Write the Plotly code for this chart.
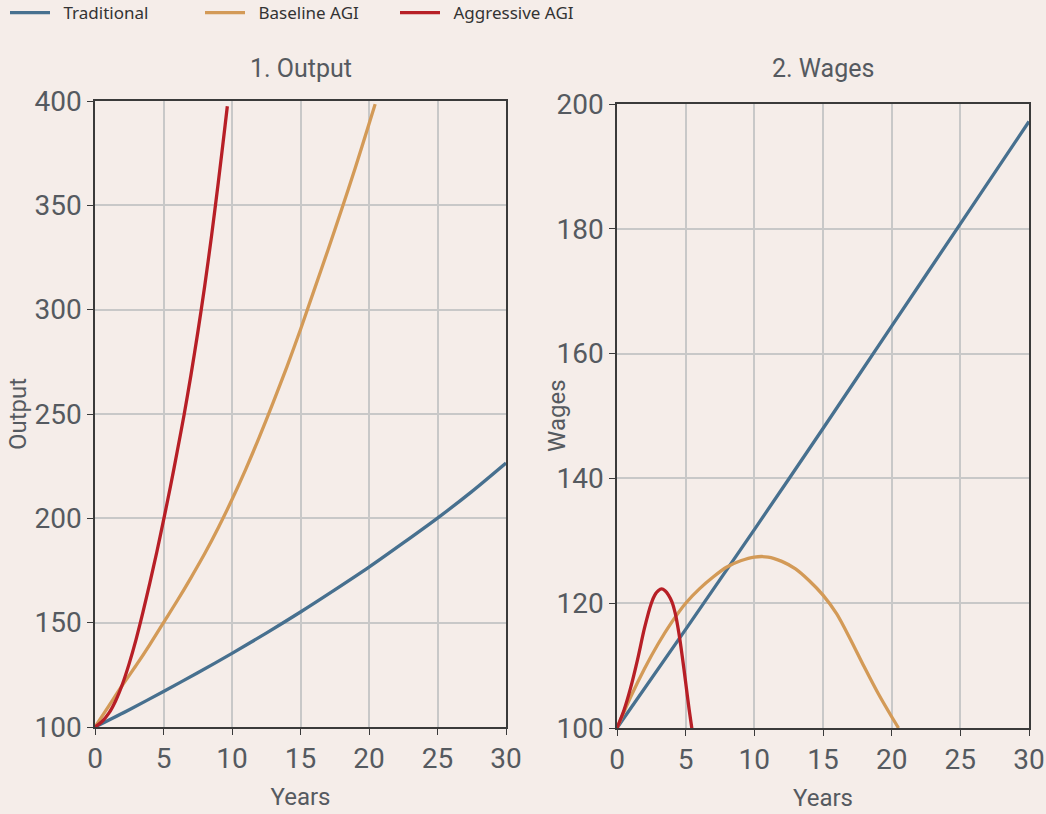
import plotly.graph_objects as go

# ---- data ----
out_trad_t = [0, 2.5, 5, 7.5, 10, 12.5, 15, 17.5, 20, 22.5, 25, 27.5, 30]
out_trad_v = [100, 108.3, 117, 126, 135.3, 145, 155.1, 165.7, 176.6, 188.2, 200.1, 212.8, 226.5]

out_base_t = [0, 1, 2, 3, 4, 5, 6, 7, 8, 9, 10, 11, 12, 13, 14, 15, 16, 17, 18, 19, 20, 20.45]
out_base_v = [100, 110, 120, 129.5, 139.5, 150, 160.5, 171.5, 183, 195.5, 209, 223.5, 239,
              255.5, 272.5, 290.5, 309.5, 328.5, 348, 368, 389, 398.5]

out_aggr_t = [0, 0.5, 1, 1.5, 2, 2.5, 3, 3.5, 4, 4.5, 5, 5.5, 6, 6.5, 7, 7.5, 8, 8.5, 9, 9.5, 9.66]
out_aggr_v = [100, 102.5, 106.5, 112.5, 120.5, 130.5, 142, 155, 169, 183.5, 199, 215, 232, 249.5,
              268.5, 289, 311, 335, 361, 388.5, 397.5]

wage_trad_t = [0, 5, 10, 15, 20, 25, 30]
wage_trad_v = [100, 115.8, 131.8, 148, 164.4, 180.8, 197.2]

wage_base_t = [0, 1, 2, 3, 4, 5, 6, 7, 8, 9, 10, 11, 12, 13, 14, 15, 16, 17, 18, 19, 20, 20.5]
wage_base_v = [100, 105, 109.5, 113.5, 117, 120, 122.3, 124.2, 125.8, 126.8, 127.4, 127.4, 126.7,
               125.5, 123.6, 121.3, 118.3, 114.2, 109.8, 105.6, 101.8, 100]

wage_aggr_t = [0, 0.5, 1, 1.5, 2, 2.5, 2.75, 3, 3.25, 3.5, 3.75, 4, 4.25, 4.5, 4.75, 5, 5.25, 5.46]
wage_aggr_v = [100, 102.8, 106.5, 111, 116, 120, 121.3, 122, 122.3, 122, 121.3, 120.2, 118.3,
               115.3, 111.5, 107.3, 103, 99.8]

series_names = ["Traditional", "Baseline AGI", "Aggressive AGI"]
colors = ["#47708f", "#d39a57", "#b71f26"]

x_ticks = [0, 5, 10, 15, 20, 25, 30]
out_ticks = [100, 150, 200, 250, 300, 350, 400]
wage_ticks = [100, 120, 140, 160, 180, 200]
titles = ["1. Output", "2. Wages"]
y_titles = ["Output", "Wages"]

BG = "#f5ede9"
TICKFONT = "Roboto, sans-serif"
TXT = "#555a60"

fig = go.Figure()

panel1 = [(out_trad_t, out_trad_v), (out_base_t, out_base_v), (out_aggr_t, out_aggr_v)]
panel2 = [(wage_trad_t, wage_trad_v), (wage_base_t, wage_base_v), (wage_aggr_t, wage_aggr_v)]

for i, (t, v) in enumerate(panel1):
    fig.add_trace(go.Scatter(x=t, y=v, mode="lines", name="\u2002" + series_names[i],
                             line=dict(color=colors[i], width=3.3, shape="spline", smoothing=0.8),
                             xaxis="x", yaxis="y", showlegend=True, legendgroup=series_names[i]))
for i, (t, v) in enumerate(panel2):
    fig.add_trace(go.Scatter(x=t, y=v, mode="lines", name=series_names[i],
                             line=dict(color=colors[i], width=3.3, shape="spline", smoothing=0.8),
                             xaxis="x2", yaxis="y2", showlegend=False, legendgroup=series_names[i]))

W, H = 1046, 814
ml, mr, mt, mb = 95, 17, 101, 86
pw = W - ml - mr
ph = H - mt - mb

def px_x(p):
    return (p - ml) / pw

def px_y(p):
    return (H - mb - p) / ph

axis_common = dict(
    showline=True, linecolor="#3a3a3a", linewidth=1.5, mirror=True,
    ticks="outside", ticklen=6, tickcolor="#3a3a3a", tickwidth=1.2,
    showgrid=True, gridcolor="#c8c8c8", gridwidth=1.5, zeroline=False,
    tickfont=dict(family=TICKFONT, size=28, color=TXT),
)
title_font = dict(family=TICKFONT, size=24, color=TXT)

fig.update_layout(
    width=W, height=H,
    paper_bgcolor=BG, plot_bgcolor=BG,
    margin=dict(l=ml, r=mr, t=mt, b=mb, autoexpand=False),
    xaxis=dict(domain=[0, px_x(506)], range=[0, 30], tickvals=x_ticks, anchor="y",
               title=dict(text="Years", font=title_font, standoff=14), **axis_common),
    yaxis=dict(domain=[px_y(727), 1], range=[100, 400], tickvals=out_ticks, anchor="x",
               **axis_common),
    xaxis2=dict(domain=[px_x(617), 1], range=[0, 30], tickvals=x_ticks, anchor="y2",
                title=dict(text="Years", font=title_font, standoff=14), **axis_common),
    yaxis2=dict(domain=[0, px_y(104)], range=[100, 200], tickvals=wage_ticks, anchor="x2",
                **axis_common),
    legend=dict(orientation="h", x=px_x(5), y=px_y(-5), xanchor="left", yanchor="top",
                font=dict(family="Noto Sans, sans-serif", size=17, color="#333333"),
                bgcolor="rgba(0,0,0,0)", itemwidth=40, entrywidth=140, entrywidthmode="pixels",
                tracegroupgap=0),
    showlegend=True,
)

centers = [(0 + px_x(506)) / 2, (px_x(617) + 1) / 2]
for c, txt in zip(centers, titles):
    fig.add_annotation(text=txt, x=c, y=px_y(68), xref="paper", yref="paper",
                       showarrow=False, xanchor="center", yanchor="middle",
                       font=dict(family=TICKFONT, size=25, color=TXT))

for xp, yp, txt in [(18, 414, y_titles[0]), (557, 416, y_titles[1])]:
    fig.add_annotation(text=txt, x=px_x(xp), y=px_y(yp), xref="paper", yref="paper",
                       showarrow=False, xanchor="center", yanchor="middle", textangle=-90,
                       font=title_font)

fig.write_html("out.html", config={"displayModeBar": False},
               post_script="document.body.style.margin='0';document.body.style.background='#f5ede9';")
